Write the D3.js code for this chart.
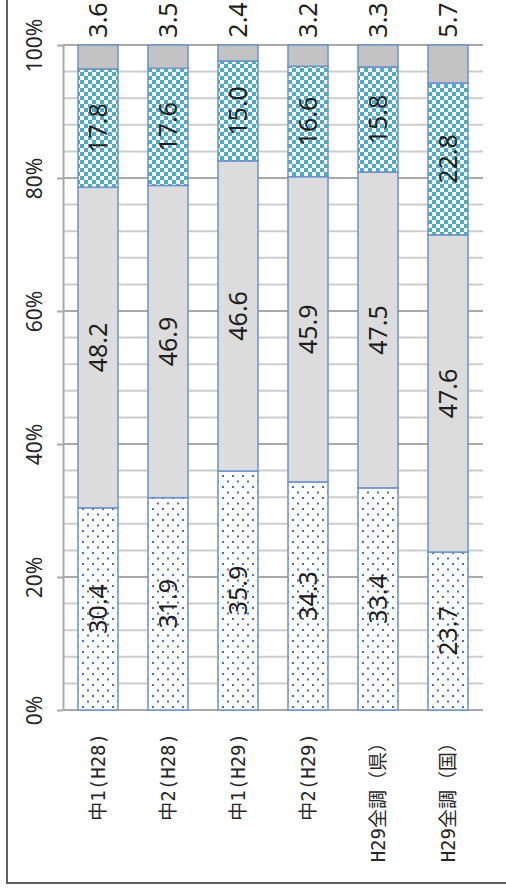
<!DOCTYPE html>
<html>
<head>
<meta charset="utf-8">
<script src="https://cdn.jsdelivr.net/npm/d3@7"></script>
<style>
  html, body { margin: 0; padding: 0; background: #fff; }
  svg { display: block; }
</style>
</head>
<body>
<svg id="chart" width="506" height="890"></svg>
<script>
// ---- data ----
const categories = ["中1(H28)", "中2(H28)", "中1(H29)", "中2(H29)", "H29全調（県）", "H29全調（国）"];
const seriesKeys = ["s1", "s2", "s3", "s4"];
const s1 = [30.4, 31.9, 35.9, 34.3, 33.4, 23.7];
const s2 = [48.2, 46.9, 46.6, 45.9, 47.5, 47.6];
const s3 = [17.8, 17.6, 15.0, 16.6, 15.8, 22.8];
const s4 = [3.6, 3.5, 2.4, 3.2, 3.3, 5.7];
const yTicks = [0, 0.2, 0.4, 0.6, 0.8, 1.0];
const yTickLabels = ["0%", "20%", "40%", "60%", "80%", "100%"];
const minorStep = 0.04;

const rows = categories.map((c, i) => ({ cat: c, s1: s1[i], s2: s2[i], s3: s3[i], s4: s4[i] }));

// ---- layout ----
const svg = d3.select("#chart");
const plotLeft = 63, plotRight = 483, plotTop = 45, plotBottom = 710;

const x = d3.scaleBand().domain(categories).range([plotLeft, plotRight]).paddingInner(3 / 7).paddingOuter(1.5 / 7);
const y = d3.scaleLinear().domain([0, 1]).range([plotBottom, plotTop]);

// frame (left + bottom visible, top/right cropped)
svg.append("rect")
  .attr("x", 7).attr("y", -10).attr("width", 520).attr("height", 893)
  .attr("fill", "none").attr("stroke", "#3a3a3a").attr("stroke-width", 1.6);

// defs: patterns
const defs = svg.append("defs");
const dots = defs.append("pattern").attr("id", "pDots").attr("patternUnits", "userSpaceOnUse")
  .attr("width", 10).attr("height", 11);
dots.append("rect").attr("width", 10).attr("height", 11).attr("fill", "#ffffff");
dots.append("rect").attr("x", 2).attr("y", 2).attr("width", 2).attr("height", 2).attr("fill", "#4472c4");
dots.append("rect").attr("x", 7).attr("y", 7.5).attr("width", 2).attr("height", 2).attr("fill", "#4472c4");

const checks = defs.append("pattern").attr("id", "pChecks").attr("patternUnits", "userSpaceOnUse")
  .attr("width", 8).attr("height", 8);
checks.append("rect").attr("width", 8).attr("height", 8).attr("fill", "#ffffff");
checks.append("rect").attr("x", 0).attr("y", 0).attr("width", 4).attr("height", 4).attr("fill", "#4bacc6");
checks.append("rect").attr("x", 4).attr("y", 4).attr("width", 4).attr("height", 4).attr("fill", "#4bacc6");

const fills = { s1: "url(#pDots)", s2: "#dcdcdc", s3: "url(#pChecks)", s4: "#c3c3c3" };

// gridlines
const gridVals = d3.range(0, 1 + 1e-9, minorStep);
svg.append("g").selectAll("line").data(gridVals).join("line")
  .attr("x1", plotLeft).attr("x2", plotRight)
  .attr("y1", d => y(d)).attr("y2", d => y(d))
  .attr("stroke", d => (Math.abs(d * 5 - Math.round(d * 5)) < 1e-6 ? "#a9a9a9" : "#cdcdcd"))
  .attr("stroke-width", 2);

// y axis
const yAxis = svg.append("g").attr("transform", `translate(${plotLeft},0)`)
  .call(d3.axisLeft(y).tickValues(yTicks).tickSize(6).tickSizeOuter(0).tickFormat((d, i) => yTickLabels[i]));
yAxis.select(".domain").attr("stroke", "#a9a9a9").attr("stroke-width", 2);
yAxis.selectAll(".tick line").attr("stroke", "#a9a9a9").attr("stroke-width", 2);
yAxis.selectAll(".tick text")
  .attr("x", null).attr("dy", null)
  .attr("transform", "translate(-29,0) rotate(-90)")
  .attr("text-anchor", "middle").attr("dy", "0.36em")
  .attr("font-family", "'Noto Sans', sans-serif").attr("font-size", 21).attr("fill", "#262626");

// stacked bars
const stack = d3.stack().keys(seriesKeys).offset(d3.stackOffsetExpand);
const stacked = stack(rows);

const barG = svg.append("g");
stacked.forEach(layer => {
  barG.append("g").selectAll("rect").data(layer).join("rect")
    .attr("x", d => x(d.data.cat))
    .attr("width", x.bandwidth())
    .attr("y", d => y(d[1]))
    .attr("height", d => y(d[0]) - y(d[1]))
    .attr("fill", fills[layer.key])
    .attr("stroke", "#6a93cc").attr("stroke-width", 1.5);
});

// value labels
const labelG = svg.append("g").attr("font-family", "'Noto Sans', sans-serif").attr("font-size", 25).attr("fill", "#1e1e1e");
stacked.forEach(layer => {
  labelG.append("g").selectAll("text").data(layer).join("text")
    .attr("transform", d => {
      const cx = x(d.data.cat) + x.bandwidth() / 2;
      const cy = layer.key === "s4" ? y(1) - 25 : (y(d[0]) + y(d[1])) / 2;
      return `translate(${cx},${cy}) rotate(-90)`;
    })
    .attr("text-anchor", "middle").attr("dy", "0.36em")
    .text(d => d.data[layer.key].toFixed(1));
});

// category axis
const xAxis = svg.append("g").attr("transform", `translate(0,${plotBottom})`)
  .call(d3.axisBottom(x).tickSize(0));
xAxis.select(".domain").remove();
xAxis.selectAll(".tick text")
  .attr("y", null).attr("dy", null)
  .attr("transform", "translate(0,23) rotate(-90)")
  .attr("text-anchor", "end").attr("dy", "0.36em")
  .attr("font-family", "'DejaVu Sans Mono', 'Noto Sans CJK JP', sans-serif").attr("font-size", 19).attr("fill", "#262626");
</script>
</body>
</html>
